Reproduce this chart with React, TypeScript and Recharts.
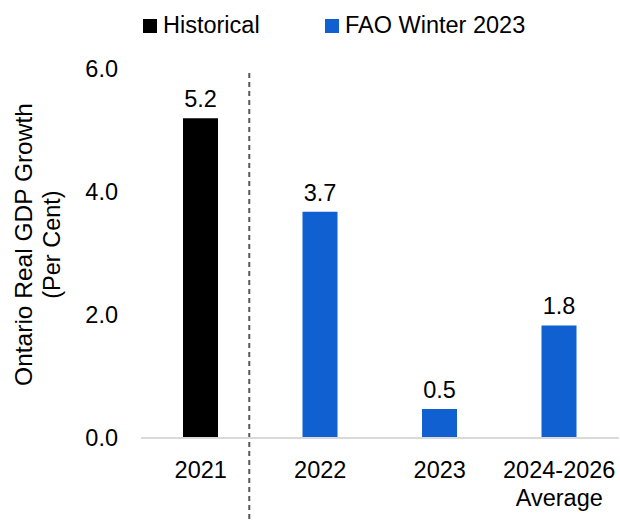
import React from 'react';
import { BarChart, Bar, XAxis, YAxis, Legend, ReferenceLine, LabelList } from 'recharts';

const categories = ['2021', '2022', '2023', '2024-2026 Average'];
const historical: (number | null)[] = [5.2, null, null, null];
const faoWinter2023: (number | null)[] = [null, 3.68, 0.47, 1.83];
const yTicks = [0, 2, 4, 6];
const seriesNames = ['Historical', 'FAO Winter 2023'];
const seriesColors = ['#000000', '#1160D2'];
const yAxisTitle = ['Ontario Real GDP Growth', '(Per Cent)'];
const dividerAfter = '2021';

const FONT = '"Liberation Sans", Arial, sans-serif';
const FS = 23.5;
const CHART_W = 620;
const Y_AXIS_W = 141;
const RIGHT_M = 1;
const BAND_W = (CHART_W - Y_AXIS_W - RIGHT_M) / categories.length;

const data = categories.map((c, i) => ({
  category: c,
  historical: historical[i],
  fao: faoWinter2023[i],
}));

const XTick = (props: any) => {
  const { x, y, payload } = props;
  const label = String(payload.value);
  const idx = label.indexOf(' ');
  const lines = idx >= 0 ? [label.slice(0, idx), label.slice(idx + 1)] : [label];
  return (
    <text x={x} y={y} textAnchor="middle" fill="#000" fontSize={FS} fontFamily={FONT}>
      {lines.map((l, i) => (
        <tspan key={i} x={x} dy={i === 0 ? 39.5 : 28.5}>
          {l}
        </tspan>
      ))}
    </text>
  );
};

const ValueLabel = (props: any) => {
  const { x, y, width, value } = props;
  if (value === null || value === undefined) return null;
  return (
    <text x={x + width / 2} y={y - 11} textAnchor="middle" fill="#000" fontSize={FS} fontFamily={FONT}>
      {Number(value).toFixed(1)}
    </text>
  );
};

const YTitle = (props: any) => {
  const vb = props.viewBox || {};
  const cy = vb.y + vb.height / 2 - 9;
  const b1 = vb.x + 31.5;
  const b2 = vb.x + 60;
  return (
    <g>
      <text x={b1} y={cy} transform={`rotate(-90, ${b1}, ${cy})`} textAnchor="middle" fill="#000" fontSize={24.5} fontFamily={FONT}>
        {yAxisTitle[0]}
      </text>
      <text x={b2} y={cy} transform={`rotate(-90, ${b2}, ${cy})`} textAnchor="middle" fill="#000" fontSize={FS} fontFamily={FONT}>
        {yAxisTitle[1]}
      </text>
    </g>
  );
};

const LegendContent = () => (
  <div style={{ height: 69, position: 'relative', fontFamily: FONT, fontSize: FS, color: '#000' }}>
    {seriesNames.map((name, i) => (
      <div
        key={name}
        style={{
          position: 'absolute',
          left: i === 0 ? 143 : 325,
          top: 11,
          display: 'flex',
          alignItems: 'center',
          height: 29,
          whiteSpace: 'nowrap',
        }}
      >
        <span style={{ display: 'inline-block', width: 14, height: 14, background: seriesColors[i], marginRight: 6 }} />
        <span>{name}</span>
      </div>
    ))}
  </div>
);

const DividerShape = (props: any) => {
  const { x1, y1, y2 } = props;
  const x = x1 + BAND_W * 0.406;
  const top = Math.min(y1, y2);
  const bottom = Math.max(y1, y2);
  return <line x1={x} x2={x} y1={top + 4} y2={bottom + 83} stroke="#595959" strokeWidth={2} strokeDasharray="5 4" />;
};

export default function App() {
  return (
    <div style={{ position: 'absolute', left: 0, top: 0, width: 620, height: 521, background: '#fff' }}>
      <BarChart width={CHART_W} height={521} data={data} margin={{ top: 0, right: RIGHT_M, bottom: 0, left: 0 }}>
        <Legend verticalAlign="top" align="left" content={<LegendContent />} wrapperStyle={{ left: 0, top: 0, width: 620 }} />
        <XAxis
          dataKey="category"
          height={83}
          axisLine={{ stroke: '#d9d9d9', strokeWidth: 2 }}
          tickLine={false}
          tickSize={0}
          tickMargin={0}
          tick={<XTick />}
          interval={0}
        />
        <YAxis
          width={Y_AXIS_W}
          domain={[0, 6]}
          ticks={yTicks}
          axisLine={false}
          tickLine={false}
          tickSize={0}
          tickMargin={23}
          tickFormatter={(v: number) => v.toFixed(1)}
          tick={{ fill: '#000', fontSize: FS, fontFamily: FONT }}
          label={{ content: <YTitle /> } as any}
        />
        <Bar dataKey="historical" stackId="s" name={seriesNames[0]} fill={seriesColors[0]} barSize={35} isAnimationActive={false}>
          <LabelList dataKey="historical" content={<ValueLabel />} />
        </Bar>
        <Bar dataKey="fao" stackId="s" name={seriesNames[1]} fill={seriesColors[1]} barSize={35} isAnimationActive={false}>
          <LabelList dataKey="fao" content={<ValueLabel />} />
        </Bar>
        <ReferenceLine x={dividerAfter} ifOverflow="visible" shape={<DividerShape />} />
      </BarChart>
    </div>
  );
}
